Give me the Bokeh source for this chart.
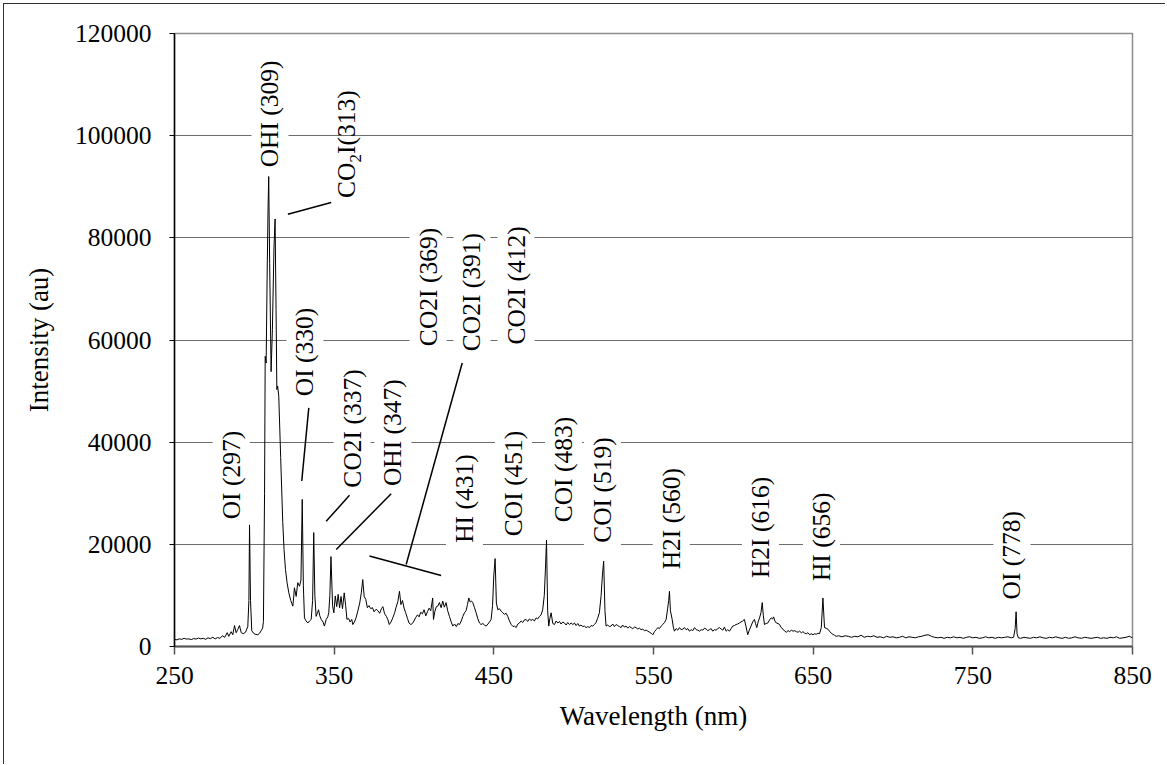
import math

from bokeh.plotting import figure
from bokeh.models import Label, Range1d, FixedTicker, NumeralTickFormatter
from bokeh.embed import file_html
from bokeh.resources import INLINE

# ---------------------------------------------------------------------------
# Emission spectrum (wavelength in nm, intensity in arbitrary units)
# ---------------------------------------------------------------------------
wavelength_nm = [
    250, 251.5, 253, 254.5, 256, 257.5, 259, 260.5, 262, 263.5, 265, 266.5, 268, 269.5,
    271, 272.5, 274, 275.5, 277, 278.5, 280, 281.5, 283, 284, 285.5, 286.5, 287.6, 288.6,
    289.6, 290.7, 291.8, 293, 294.5, 295.9, 296.6, 297, 297.6, 298.4, 299.5, 300.5, 302.2,
    303.3, 304.3, 305.2, 305.7, 306.4, 306.8, 307.4, 308, 308.6, 309, 309.6, 310.5, 311.3,
    312.3, 313, 313.6, 314.1, 314.6, 315.3, 316.5, 317.8, 318.6, 319.5, 320.5, 321.6, 322.8,
    324.1, 324.6, 325.1, 326.2, 327.2, 328.3, 329.2, 330, 330.7, 331.4, 332.4, 333.5, 334.6,
    335.6, 336.5, 337.2, 337.9, 338.7, 339.5, 340.2, 341, 341.9, 343, 343.9, 345, 346, 346.6,
    347.3, 348, 349, 349.8, 350.7, 351.6, 352.5, 353.4, 354.3, 355.2, 356.3, 357.2, 358, 359,
    360, 361, 361.7, 362.7, 363.7, 364.7, 366, 367, 367.9, 368.8, 369.8, 370.8, 371.8, 372.9,
    374, 375, 376.3, 377.4, 378.5, 379.6, 380.5, 381.6, 382.7, 383.7, 384.5, 385.6, 386.7,
    387.8, 388.8, 389.9, 390.9, 391.8, 392.8, 393.8, 394.8, 395.9, 396.9, 398, 399, 400,
    401.1, 402.2, 403.2, 404.2, 405.3, 406.3, 407.4, 408.4, 409.5, 410.5, 411.7, 412.2, 413,
    414, 414.9, 415.9, 417, 418, 419, 420.1, 421.1, 422.2, 423.3, 424.3, 425.4, 426.5, 427.5,
    428.5, 429.6, 430.6, 431.6, 432.6, 433.5, 434.3, 435.2, 436, 436.8, 437.9, 438.9, 440,
    441, 442, 443.1, 444.2, 445.2, 446.3, 447.3, 448.3, 449.2, 450, 450.8, 451.6, 452.5,
    453.5, 454.6, 455.6, 456.6, 457.7, 458.7, 459.8, 460.9, 462, 463, 464, 465, 466, 467.1,
    468.1, 469.1, 470.2, 471.2, 472.3, 473.3, 474.4, 475.4, 476.5, 477.5, 478.6, 479.6,
    480.6, 481.6, 482.3, 483, 483.7, 484.4, 485.1, 485.9, 486.9, 488, 489, 490.1, 491.1,
    492.1, 493.2, 494.2, 495.3, 496.3, 497.4, 498.4, 499.5, 500.5, 501.5, 502.6, 503.6,
    504.6, 505.7, 506.7, 507.8, 508.8, 509.9, 510.9, 512, 513, 514, 515, 516.1, 517.2, 518,
    518.8, 519.6, 520.3, 521.3, 522.4, 523.4, 524.5, 525.5, 526.6, 527.6, 528.7, 529.7,
    530.7, 531.8, 532.8, 533.9, 534.9, 536, 537, 538.1, 539.1, 540.2, 541.2, 542.2, 543.3,
    544.3, 545.4, 546.4, 547.5, 548.5, 549.6, 550.6, 551.7, 552.7, 553.7, 554.8, 555.8,
    556.9, 557.9, 558.9, 559.5, 560, 560.6, 561.7, 562.4, 563.1, 564.2, 565.2, 566.3, 567.3,
    568.4, 569.4, 570.4, 571.5, 572.5, 573.6, 574.6, 575.7, 576.7, 577.8, 578.8, 579.9,
    580.9, 582, 583, 584, 585.1, 586.1, 587.1, 588.2, 589.2, 590.3, 591.3, 592.4, 593.4,
    594.4, 595.5, 596.5, 597.6, 598.6, 599.6, 600.7, 601.7, 602.7, 603.8, 604.8, 605.9,
    606.9, 607.9, 609, 610, 611.1, 612.1, 613.2, 613.9, 614.7, 615.5, 616.4, 617.3, 618.1,
    618.8, 619.5, 620.5, 621.6, 622.7, 623.7, 624.6, 625.2, 626, 626.9, 628, 629, 630, 631.1,
    632.2, 633.2, 634.3, 635.3, 636.3, 637.4, 638.5, 639.5, 640.6, 641.5, 642.6, 643.6,
    644.7, 645.7, 646.7, 647.8, 648.8, 649.9, 650.9, 651.9, 653, 654, 655.1, 656.1, 657.1,
    658.1, 659.2, 660.2, 661.3, 662.3, 663.4, 664.4, 666, 668, 670, 672, 674, 676, 678, 680,
    682, 684, 686, 688, 690, 692, 694, 696, 698, 700, 702, 704, 706, 708, 710, 712, 714, 716,
    718, 720, 722, 724, 726, 728, 730, 732, 734, 736, 738, 740, 742, 744, 746, 748, 750, 752,
    754, 756, 758, 760, 762, 764, 766, 768, 770, 772, 774, 775.5, 776.5, 777.1, 777.7, 778.5,
    780, 782, 784, 786, 788, 790, 792, 794, 796, 798, 800, 802, 804, 806, 808, 810, 812, 814,
    816, 818, 820, 822, 824, 826, 828, 830, 832, 834, 836, 838, 840, 842, 844, 846, 848, 850,
]

intensity_au = [
    1400, 1300, 1500, 1400, 1600, 1450, 1500, 1350, 1550, 1450, 1650, 1500, 1600, 1400,
    1700, 1550, 1800, 1500, 1750, 1600, 2100, 1800, 2700, 2000, 2900, 2300, 4100, 2700,
    3300, 4100, 2700, 2500, 2800, 3900, 9000, 23800, 9000, 3100, 2600, 2400, 2300,
    2600, 3100, 3600, 4900, 30000, 56800, 55500, 72000, 86000, 92000, 75000, 53800, 62000,
    78000, 83700, 66000, 50300, 51000, 49000, 37000, 24300, 19000, 15100, 12500, 10500, 9000,
    7900, 9500, 11500, 9800, 12500, 11800, 13000, 28800, 12000, 5600, 5000, 4600, 5000,
    5300, 9000, 22300, 10000, 5900, 6500, 7200, 6000, 5300, 4800, 4000, 5300, 5800, 6600,
    10000, 17600, 8000, 6600, 9900, 7800, 10200, 7600, 9800, 7400, 10500, 8000, 5300, 5500,
    4800, 5300, 4300, 4800, 5600, 6800, 8500, 10500, 13100, 9800, 9200, 7600, 8000, 7400,
    7600, 6800, 7300, 7000, 6500, 7400, 7800, 6400, 5900, 5200, 4300, 4800, 5600,
    6500, 7700, 8800, 10800, 8200, 9000, 7500, 6600, 5500, 4600, 4300, 4500, 5000,
    5700, 6200, 5800, 6700, 6400, 7200, 6000, 6800, 7500, 7000, 9500, 5300, 6800,
    7800, 7900, 8600, 7600, 8900, 7700, 8600, 7000, 5900, 4800, 4000, 4400, 3900, 4500,
    4300, 5000, 5900, 6600, 7000, 8200, 9500, 8700, 8900, 8600, 7600, 6600, 5400,
    4600, 4300, 4500, 4200, 4000, 4400, 4800, 5300, 8000, 14000, 17200, 8500, 7200,
    7400, 6900, 6600, 6300, 6500, 5900, 5000, 4300, 3900, 4000, 3700, 4400, 4600, 5000,
    4700, 5200, 5300, 4900, 5400, 5100, 5300, 5000, 5600, 5400, 5900, 6200,
    7200, 10000, 15000, 20800, 7000, 4000, 5500, 6600, 4500, 4300, 5000, 4600, 4900,
    4400, 4800, 4600, 4200, 4700, 4300, 4600, 4300, 4600, 4100, 4500, 4000,
    4200, 3900, 4000, 3700, 3900, 3700, 4100, 4000, 4300, 4700, 5500, 6600, 10000, 14000,
    16700, 7000, 4000, 4200, 3900, 4000, 4400, 3900, 4300, 4100, 3900, 3700,
    4200, 3800, 4000, 3600, 3900, 3700, 3500, 3800, 3700, 3400, 3600, 3300, 3400,
    3100, 3200, 3000, 2800, 2600, 2300, 2900, 3300, 3700, 3500, 4000, 4300,
    4700, 5300, 7500, 9000, 10800, 7000, 5300, 3800, 3000, 3500, 3200, 3700, 3300,
    3400, 3700, 3300, 3500, 3000, 3300, 3100, 3700, 3300, 3200, 3000, 3300,
    3200, 3600, 3400, 3100, 3300, 3500, 3000, 3300, 3200, 3500, 3700, 3400, 3200,
    3800, 3000, 3300, 3000, 3500, 4000, 4100, 4300, 4400, 4600, 4800, 5000,
    5300, 4000, 2300, 3200, 4000, 4800, 5300, 4500, 3700, 4800, 5600, 6600, 8600,
    6000, 4300, 4500, 4600, 5200, 5600, 5400, 5800, 5000, 4600, 4500, 4300, 3700, 3400,
    3000, 2800, 3100, 2900, 3200, 3000, 3100, 2900, 2800, 3000, 2700, 2900,
    2600, 2500, 2700, 2300, 2500, 2300, 2500, 2400, 2600, 2500, 3700, 9500, 3700,
    3600, 3400, 3000, 2600, 2400, 2200, 2000, 2100, 1900, 2100, 2000, 1800, 2000, 1900, 2200,
    1800, 2000, 1900, 2100, 1800, 1900, 1700, 2000, 1800, 1900, 1700, 1800, 2000, 1700, 1900, 1800, 1700, 1900,
    2000, 2200, 2300, 2000, 1800, 1700, 1800, 1600, 1800, 1700, 1900, 1700, 1800, 1600, 1800, 1900, 1700, 1800,
    1600, 1700, 1900, 1700, 1800, 1600, 1800, 1700, 1800, 1900, 1700, 1800, 3500, 6800, 2500, 1700,
    1600, 1800, 1700, 1600, 1800, 1700, 1900, 1700, 1600, 1800, 1700, 1900, 1700, 1600, 1800, 1600, 1700, 1900,
    1700, 1600, 1800, 1700, 1600, 1700, 1800, 1600, 1700, 1600, 1800, 1700, 1900, 1600, 1700, 1800, 2000, 1700,
]

x_ticks = [250, 350, 450, 550, 650, 750, 850]
y_ticks = [0, 20000, 40000, 60000, 80000, 100000, 120000]

# Line identifications: text, anchor wavelength, anchor intensity (text foot)
line_names = ["OI (297)", "OHI (309)", "OI (330)", "CO2I (337)", "OHI (347)",
              "CO2I (369)", "CO2I (391)", "CO2I (412)", "HI (431)", "COI (451)",
              "COI (483)", "COI (519)", "H2I (560)", "H2I (616)", "HI (656)", "OI (778)"]
name_x = [285.5, 309.8, 331.7, 361.2, 386.8, 408.8, 436.3, 463.9, 431.6, 462.3,
          493.6, 518.0, 561.1, 617.0, 655.2, 774.5]
name_y = [24900, 93800, 49000, 31100, 31400, 58800, 57800, 59100, 20300, 21600,
          24300, 20300, 15100, 13400, 12800, 9200]

# Leader lines and the bracket under the CO2I group
leader_x0 = [321.0, 334.1, 359.6, 385.7, 430.2, 372.1]
leader_y0 = [84600, 46700, 29600, 29900, 55500, 17700]
leader_x1 = [348.1, 329.7, 345.0, 351.3, 395.1, 417.0]
leader_y1 = [86900, 32400, 24500, 19000, 16050, 13900]

FONT = "Liberation Serif"
TEXT_SIZE = "25.5px"
PAD = 4

p = figure(
    width=1162, height=761,
    output_backend="svg", toolbar_location=None,
    x_range=Range1d(250, 850), y_range=Range1d(0, 120000),
    min_border_left=170, min_border_right=34, min_border_top=29, min_border_bottom=119,
    background_fill_color="white", border_fill_color="white",
    x_axis_label="Wavelength (nm)", y_axis_label="Intensity (au)",
)
p.margin = (3, 0, 0, 3)
p.styles = {"border-left": "1px solid #333333", "border-top": "1px solid #333333"}

p.outline_line_color = "#8c8c8c"
p.outline_line_width = 1.5

p.xgrid.visible = False
p.ygrid.ticker = FixedTicker(ticks=y_ticks)
p.ygrid.grid_line_color = "#6e6e6e"
p.ygrid.grid_line_width = 1

p.xaxis.ticker = FixedTicker(ticks=x_ticks)
p.yaxis.ticker = FixedTicker(ticks=y_ticks)
p.yaxis.formatter = NumeralTickFormatter(format="0")

for ax in (p.xaxis[0], p.yaxis[0]):
    ax.major_label_text_font = FONT
    ax.major_label_text_font_size = TEXT_SIZE
    ax.major_label_text_color = "black"
    ax.axis_label_text_font = FONT
    ax.axis_label_text_font_size = "27px"
    ax.axis_label_text_font_style = "normal"
    ax.axis_label_text_color = "black"
    ax.minor_tick_line_color = None
    ax.major_tick_in = 0

p.xaxis.axis_line_color = "#555555"
p.xaxis.axis_line_width = 2
p.xaxis.major_tick_line_color = "#555555"
p.xaxis.major_tick_line_width = 1.5
p.xaxis.major_tick_out = 8
p.xaxis.major_label_standoff = 12
p.xaxis.axis_label_standoff = 14

p.yaxis.axis_line_color = "black"
p.yaxis.axis_line_width = 1.5
p.yaxis.major_tick_line_color = "black"
p.yaxis.major_tick_out = 5
p.yaxis.major_label_standoff = 18
p.yaxis.axis_label_standoff = 18

# spectrum trace
p.line(wavelength_nm, intensity_au, line_color="black", line_width=1)

# leader lines
p.segment(leader_x0, leader_y0, leader_x1, leader_y1, line_color="black", line_width=1.5)

# rotated identification labels on white boxes (offset so the text foot sits on the anchor)
for txt, lx, ly in zip(line_names, name_x, name_y):
    p.add_layout(Label(
        x=lx, y=ly, y_offset=-PAD, text=txt, angle=math.pi / 2,
        text_align="left", text_baseline="middle",
        text_font=FONT, text_font_size=TEXT_SIZE, text_color="black",
        background_fill_color="white", padding=PAD,
    ))

# CO2I(313) with subscript 2
co_x, co_y = 358.0, 87800
parts = [("CO", TEXT_SIZE, 0, 0), ("2", "17px", 9, 35.4), ("I(313)", TEXT_SIZE, 0, 43.9)]
p.add_layout(Label(
    x=co_x, y=co_y, y_offset=-PAD, text="CO2I(313)", angle=math.pi / 2,
    text_align="left", text_baseline="middle", text_font=FONT,
    text_font_size=TEXT_SIZE, text_color="white", text_alpha=0.0,
    background_fill_color="white", padding=PAD,
))
for txt, size, dx, dy in parts:
    p.add_layout(Label(
        x=co_x, y=co_y, x_offset=dx, y_offset=dy, text=txt, angle=math.pi / 2,
        text_align="left", text_baseline="middle",
        text_font=FONT, text_font_size=size, text_color="black",
    ))

open("out.html", "w").write(file_html(p, INLINE))
